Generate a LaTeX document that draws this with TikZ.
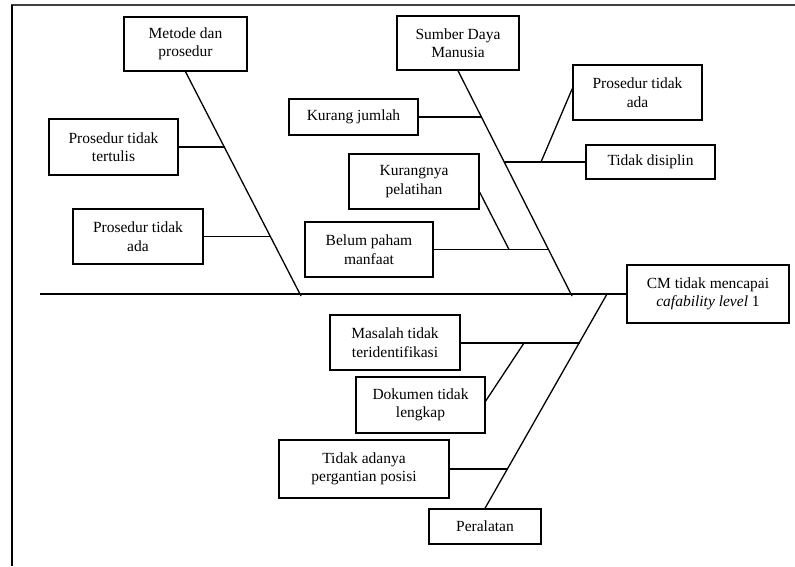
\documentclass[tikz,border=0pt]{standalone}
\usepackage{fontspec}
\setmainfont{Liberation Serif}
\usetikzlibrary{calc}
\begin{document}
\begin{tikzpicture}[x=1pt,y=-1pt,
  box/.style={draw, line width=1.4pt, align=center, inner sep=0pt, font=\fontsize{15.5}{18.5}\selectfont},
  bone/.style={line width=1.3pt}]
\useasboundingbox (0,0) rectangle (795,566);
% frame
\draw[line width=1.8pt, black!75] (11,5) -- (795,5);
\draw[line width=1.6pt] (12,5) -- (12,566);
% boxes
\node[box, minimum width=123pt, minimum height=54pt] (metode) at (185.5,44) {Metode dan\\prosedur};
\node[box, minimum width=129pt, minimum height=56pt] (ptt) at (113.5,147) {Prosedur tidak\\tertulis};
\node[box, minimum width=130pt, minimum height=55pt] (pta) at (138,236.5) {Prosedur tidak\\ada};
\node[box, minimum width=122pt, minimum height=54pt] (sdm) at (458,43) {Sumber Daya\\Manusia};
\node[box, minimum width=129pt, minimum height=36pt] (kj) at (353.5,117) {Kurang jumlah};
\node[box, minimum width=130pt, minimum height=55pt] (kp) at (414,181.5) {Kurangnya\\pelatihan};
\node[box, minimum width=128pt, minimum height=55pt] (bpm) at (369,249.5) {Belum paham\\manfaat};
\node[box, minimum width=129pt, minimum height=55pt] (ptar) at (637.5,92.5) {Prosedur tidak\\ada};
\node[box, minimum width=129pt, minimum height=34pt] (td) at (650.5,162) {Tidak disiplin};
\node[box, minimum width=162pt, minimum height=58pt] (cm) at (708,294) {CM tidak mencapai\\\textit{cafability level} 1};
\node[box, minimum width=130pt, minimum height=55pt] (mti) at (395,342.5) {Masalah tidak\\teridentifikasi};
\node[box, minimum width=129pt, minimum height=56pt] (dtl) at (420.5,405) {Dokumen tidak\\lengkap};
\node[box, minimum width=170pt, minimum height=58pt] (tap) at (364,469) {Tidak adanya\\pergantian posisi};
\node[box, minimum width=112pt, minimum height=35pt] (per) at (485,526.5) {Peralatan};
% spine
\coordinate (tail) at (40,294);
\draw[bone] (tail) -- (cm.west);
% Metode bone
\coordinate (m0) at (301,296);
\coordinate (m1) at (224.7,147);
\coordinate (m2) at (271.1,236.5);
\draw[bone] (metode.south) -- (m0);
\draw[bone] (ptt.east) -- (m1);
\draw[bone] (pta.east) -- (m2);
% SDM bone
\coordinate (s0) at (572,296);
\coordinate (s1) at (481.8,117);
\coordinate (s2) at (504.6,162);
\coordinate (s2b) at (541,162);
\coordinate (s3) at (549,249.5);
\coordinate (s3b) at (509,249.5);
\draw[bone] (sdm.south) -- (s0);
\draw[bone] (kj.east) -- (s1);
\draw[bone] (s2) -- (td.west);
\draw[bone] (s2b) -- ($(ptar.north west)!0.43!(ptar.south west)$);
\draw[bone] (bpm.east) -- (s3);
\draw[bone] (s3b) -- ($(kp.north east)!0.69!(kp.south east)$);
% Peralatan bone
\coordinate (p0) at (607,294);
\coordinate (p1) at (579.6,343);
\coordinate (p1b) at (524,343);
\coordinate (p2) at (507.8,469);
\draw[bone] (per.north) -- (p0);
\draw[bone] (mti.east |- p1) -- (p1);
\draw[bone] (p1b) -- ($(dtl.north east)!0.43!(dtl.south east)$);
\draw[bone] (tap.east) -- (p2);
\end{tikzpicture}
\end{document}
